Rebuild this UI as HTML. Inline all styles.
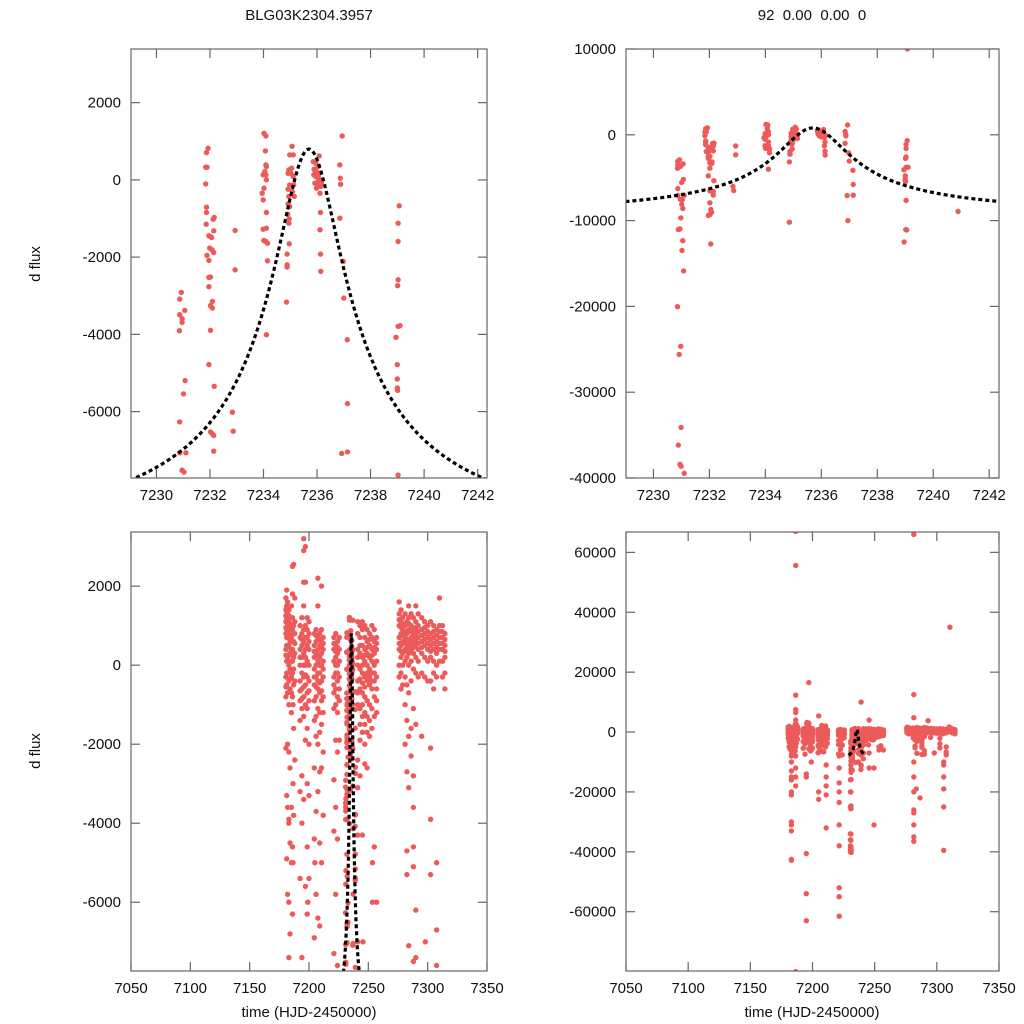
<!DOCTYPE html>
<html><head><meta charset="utf-8">
<style>
html,body{margin:0;padding:0;background:#fff;width:1024px;height:1024px;overflow:hidden;}
svg{display:block;font-family:"Liberation Sans",sans-serif;}
</style></head>
<body>
<svg id="fig" width="1024" height="1024" viewBox="0 0 1024 1024" xmlns="http://www.w3.org/2000/svg">
<rect width="1024" height="1024" fill="#fff"/>
<text x="309" y="20" font-size="15" text-anchor="middle" fill="#111">BLG03K2304.3957</text>
<text x="812" y="20" font-size="15" text-anchor="middle" fill="#111" xml:space="preserve">92  0.00  0.00  0</text>
<text transform="translate(40,264) rotate(-90)" font-size="15" text-anchor="middle" fill="#111">d flux</text>
<text transform="translate(40,751) rotate(-90)" font-size="15" text-anchor="middle" fill="#111">d flux</text>
<text x="309" y="1017" font-size="15" text-anchor="middle" fill="#111">time (HJD-2450000)</text>
<text x="812" y="1017" font-size="15" text-anchor="middle" fill="#111">time (HJD-2450000)</text>
</svg>
<script>
// ---- window data (zoom around peak) ----
const winT = [
7230.93,7230.87,7231.06,7230.87,7230.96,7230.96,7230.86,7231.07,7231.01,7230.87,7230.87,7231.10,7230.96,7231.03,
7231.93,7231.87,7231.84,7231.89,7231.84,7231.87,7231.87,7231.86,7232.12,7232.16,7231.96,7232.02,7232.06,7232.14,7231.99,7232.08,7232.14,7231.89,7231.96,7231.96,7232.02,7231.96,7232.09,7232.02,7232.09,7232.02,7231.96,7232.16,7232.02,7232.09,7232.14,7232.14,
7232.94,7232.94,7232.84,7232.87,
7234.02,7234.09,7234.07,7234.09,7234.11,7234.05,7234.09,7233.99,7234.11,7234.02,7233.95,7233.99,7234.11,7233.99,7234.11,7234.01,7234.15,7234.09,7234.15,7234.11,
7235.07,7234.98,7235.11,7234.92,7235.03,7235.11,7234.98,7235.13,7234.92,7235.08,7234.95,7235.15,7234.92,7234.98,7234.90,7234.96,7234.95,7234.96,7234.88,7234.88,7234.88,7234.86,7235.05,7234.95,
7236.08,7235.86,7235.96,7236.04,7235.89,7235.98,7236.08,7235.88,7235.96,7236.04,7236.11,7235.92,7236.02,7236.13,7235.98,7236.11,7236.13,7236.11,7236.13,7236.14,7235.93,7236.01,7236.06,7236.16,
7236.94,7236.85,7236.87,7236.88,7236.85,7236.98,7237.00,7237.13,7237.14,7236.92,7237.14,
7239.07,7239.03,7239.03,7239.03,7239.01,7239.10,7239.03,7238.95,7239.00,7239.00,7239.00,7239.01,7239.03,
7239.08,7230.86,7230.98,7230.92,7230.99,7230.89,7230.95,7230.99,7231.10,7231.08,
7231.01,7231.05,7230.98,7230.89,7230.95,7231.05,7231.02,7231.08,
7232.02,7232.05,7232.02,7231.96,7232.08,7232.05,
7234.86,7236.95,7239.02,7239.05,7238.96,7240.89
];
const winF = [
-2914,-3086,-3380,-3491,-3595,-3690,-3905,-5198,-5543,-6267,-7068,-7068,-7517,-7568,
819,707,328,328,-103,-707,-845,-1147,-1017,-974,-1448,-1465,-1491,-1319,-1767,-1810,-1879,-1957,-2086,-2526,-2517,-2767,-3146,-3258,-3319,-3896,-4784,-5344,-6525,-6577,-6620,-7025,
-1310,-2327,-6017,-6508,
1207,1138,750,388,345,216,129,129,0,-216,-345,-517,-845,-1276,-1250,-1569,-1638,-1595,-2095,-4008,
871,647,647,172,172,86,-129,-129,-241,-302,-431,-431,-621,-690,-888,-1009,-1121,-1655,-1922,-2198,-2258,-3164,302,259,
621,474,431,345,276,216,172,129,86,86,0,-86,-129,-172,-216,-345,-845,-1293,-1922,-2370,220,180,-20,-70,
1138,388,43,-112,-991,-2112,-3060,-4138,-5793,-7086,-7043,
-672,-1121,-1595,-2586,-2741,-3776,-3793,-4077,-4784,-5155,-5388,-5448,-7646,
10000,-20040,-24650,-25590,-34100,-36170,-38400,-38630,-39450,-40230,
-8125,-8590,-9690,-11050,-10970,-12340,-13480,-15860,
-7930,-8710,-9300,-9410,-9020,-12730,
-10190,-10000,-11050,-11100,-12500,-8940
];
// ---- full season data (grouped by night) ----
const nightT = [
7180.5,7181.2,7182.0,7183.1,7184.0,7185.2,7186.1,7187.0,7188.0,
7192.5,7194.0,7195.5,7197.0,7198.5,7200.0,
7204.5,7206.0,7207.5,7209.0,7210.5,7212.0,
7221.0,7222.5,7224.0,7225.5,
7241.0,7243.0,7245.0,7247.0,7249.0,7251.0,7253.0,7255.0,7257.0,
7276.0,7277.5,7279.0,7281.0,7282.5,7284.0,7286.0,7288.0,7290.0,7292.0,
7295.0,7297.5,7300.0,7302.5,7305.0,7307.5,7310.0,7312.5,7314.5,
7183.0,7186.5,7195.0,7197.0,7199.0,7205.0,7211.0,7221.5,7230.5,7245.5,7249.5,7253.5,7281.5,7283.5,7286.5,7293.0,7298.0,7305.5,7310.5
];
const nightF = [
[1700,1400,1100,800,400,-300,-800,-2100,1250,950,250,-550],
[1900,1500,1200,900,500,100,-500,-3300,-4900,1350,700,-200],
[1600,1300,1000,700,200,-200,-700,-2000,-3600,-5800,1150,450],
[1400,1100,800,500,0,-400,-1000,-2200,-3900,-7400,1250,250],
[1200,900,600,300,-100,-600,-2600,-4500,-6800,1050,-350],
[1500,1000,700,100,-300,-1200,-3600,-5000,400,-700],
[2500,1800,1200,900,400,-200,-800,-4600,-6300,600,100],
[2550,1000,600,200,-500,-1600,-3800,800,-100],
[1700,1100,800,300,-400,-2400,550],
[1000,700,400,0,-400,-900,-1400,-3200,-5400,200,-650],
[1200,800,500,200,-200,-600,-1100,-2800,-4000,-7400,650,-850],
[3200,2900,2100,1500,900,600,300,-300,-800,-1300,-3400,0,-550],
[2100,1000,700,400,0,-500,-1000,-1900,-5600,200,-250],
[1200,900,500,100,-300,-700,-1600,-3000,-4600,-6300,700,-1100],
[1100,800,400,0,-400,-900,-2000,-3300,-5400,600,-650],
[800,500,200,-100,-500,-900,-1400,-2600,-4400,-6900,350,-300],
[900,600,300,0,-300,-800,-1300,-1800,-3700,-5800,750,-550],
[2200,1500,700,400,100,-200,-600,-1100,-2000,-3200,-6400,250,-400],
[800,500,200,-200,-700,-1200,-1700,-2700,-4500,-6600,650,0,-450],
[2000,900,600,300,0,-400,-900,-1500,-2600,-5000,450,-650],
[700,400,100,-300,-800,-1200,-2200,-3800,550,-100],
[700,400,100,-300,-700,-1100,-2900,-4200,-7300,550,-500],
[800,500,200,-200,-600,-1000,-1900,-3600,-5800,350,0],
[600,300,0,-400,-800,-1200,-2200,-4400,-7600,450,-200],
[700,400,100,-300,-900,-1900,-600],
[1100,800,400,0,-400,-1000,-2400,-3100,-4300,-7000,200,-700],
[1000,700,300,-100,-600,-1100,-1500,-1900,-2800,500,-350],
[1100,900,500,200,-200,-700,-1000,-1300,-1700,-4300,0,-450],
[1000,700,400,100,-300,-800,-1200,-1500,-2000,-2500,250,-550],
[900,600,300,0,-400,-900,-1300,-1700,-2600,450,-200],
[800,500,200,-100,-500,-1000,-1400,-1800,650,-300],
[1000,700,400,100,-200,-600,-1100,-1600,250,-400],
[900,600,300,0,-400,-800,-1300,-4600,450,-200],
[700,400,100,-300,-600,-1200,-6000,550,-900],
[1600,1300,1000,700,400,0,-300,1150,550],
[1400,1100,800,500,200,-200,-600,950,350],
[1200,900,600,300,0,-500,1050,750],
[1300,1000,700,400,100,-300,-1000,-2000,850,550],
[1100,800,500,200,-500,-1400,-2700,-4700,-5300,650,350],
[1500,1200,900,600,300,0,-700,-1800,-3100,-7100,1050,450],
[1300,1000,700,400,100,-400,-1600,-2300,850,550],
[1200,900,600,300,-100,-1100,-2800,-3600,-4600,-5100,-7500,750,450],
[1500,1100,800,500,200,-200,-1500,-6200,-7400,950,650],
[1300,1000,700,400,100,-300,850,550],
[1200,900,600,300,-200,-1800,750,450],
[1100,800,500,200,-300,950,650],
[1000,700,400,100,-400,850,550],
[1100,800,500,200,-400,-2100,-3900,-5300,650,350],
[1000,700,400,100,-200,-600,850,550],
[900,600,300,0,-300,-5000,-6700,-7600,750,450],
[1700,1000,700,400,100,850,550],
[1000,700,400,100,-300,850,550],
[800,500,200,-200,-600,650,350]
,[-4000,-6000,-8000,-10000,-13000,-15000,-16000,-20000,-21000,-30000,-31000,-33000,-42500,-42800],
[67000,55600,12300,7500,6500,4000,-1000,-3000,-5000,-8000,-12000,-15000,-18000,-80000],
[-14000,-15000,-40600,-54000,-63000],
[3000,16500],
[-6000,-10000],
[5400,-5000,-20000,-22500],
[-11000,-15000,-18000,-21000,-32000],
[-8000,-12000,-17000,-20000,-23500,-31000,-38000,-52000,-55000,-61500],
[-16000,-20000,-25000,-34000,-36000,-38000,-39000,-40000],
[4000,-7000,-12000],
[-12000,-31000],
[-5000,-6000],
[66000,12500,4800,-10000,-15000,-20000,-26000,-27000,-31000,-35000,-36500],
[-19000],
[-22000],
[3800],
[-7000],
[-10000,-11000,-15000,-19000,-25000,-39500],
[35000]
];
// ---- model curve parameters ----
const modelT0 = [7235.7];
const modelBase = [-9800];
const modelAmp = [10600];
const modelWidth = [1.3];
const modelRange = [7229.0, 7242.4];
// ---- tick labels ----
const ticksXWin = [7230,7232,7234,7236,7238,7240,7242];
const ticksXAll = [7050,7100,7150,7200,7250,7300,7350];
const ticksYTL = [2000,0,-2000,-4000,-6000];
const ticksYTR = [10000,0,-10000,-20000,-30000,-40000];
const ticksYBL = [2000,0,-2000,-4000,-6000];
const ticksYBR = [60000,40000,20000,0,-20000,-40000,-60000];

const NS = 'http://www.w3.org/2000/svg';
const svg = document.getElementById('fig');
function mk(tag, attrs, parent){const e=document.createElementNS(NS,tag);for(const k in attrs)e.setAttribute(k,attrs[k]);(parent||svg).appendChild(e);return e;}

const allT = [], allF = [];
nightT.forEach((t,i)=>nightF[i].forEach(f=>{allT.push(t);allF.push(f);}));
winT.forEach((t,i)=>{allT.push(t);allF.push(winF[i]);});

const panels = [
 {id:'top-left', x0:131,x1:487,y0:49,y1:478, xd:[7229.05,7242.35], yd:[-7720,3390], xt:ticksXWin, yt:ticksYTL, T:winT, F:winF},
 {id:'top-right', x0:626,x1:999,y0:49,y1:478, xd:[7229.02,7242.35], yd:[-40000,10000], xt:ticksXWin, yt:ticksYTR, T:winT, F:winF},
 {id:'bottom-left', x0:131,x1:487,y0:532,y1:971, xd:[7050,7350], yd:[-7740,3370], xt:ticksXAll, yt:ticksYBL, T:allT, F:allF},
 {id:'bottom-right', x0:626,x1:999,y0:532,y1:971, xd:[7050,7350], yd:[-79800,66800], xt:ticksXAll, yt:ticksYBR, T:allT, F:allF}
];

panels.forEach((p,pi)=>{
  const sx = v => p.x0 + (v-p.xd[0])/(p.xd[1]-p.xd[0])*(p.x1-p.x0);
  const sy = v => p.y1 - (v-p.yd[0])/(p.yd[1]-p.yd[0])*(p.y1-p.y0);
  const g = mk('g',{});
  
  
  const cp = mk('clipPath',{id:'cp'+pi}, g);
  mk('rect',{x:p.x0,y:p.y0,width:p.x1-p.x0,height:p.y1-p.y0}, cp);
  const pts = mk('g',{'clip-path':'url(#cp'+pi+')',fill:'#ec5a5a'}, g);
  
  
  p.T.forEach((t,i)=>{
    const c = mk('circle',{cx:sx(t).toFixed(1),cy:sy(p.F[i]).toFixed(1),r:2.7}, pts);
    
    
  });
  let d='';
  const N=300;
  for(let k=0;k<=N;k++){
    const t = modelRange[0] + (modelRange[1]-modelRange[0])*k/N;
    const u = (t-modelT0[0])/modelWidth[0];
    const f = modelBase[0] + modelAmp[0]/Math.sqrt(1+u*u);
    d += (k?'L':'M')+sx(t).toFixed(2)+','+sy(f).toFixed(2);
  }
  const mc = mk('path',{d:d,fill:'none',stroke:'#000','stroke-width':3.2,'stroke-dasharray':'4,3','clip-path':'url(#cp'+pi+')'}, g);
  
  
  const fr = mk('rect',{x:p.x0,y:p.y0,width:p.x1-p.x0,height:p.y1-p.y0,fill:'none',stroke:'#666','stroke-width':1.2}, g);
  
  
  p.xt.forEach(v=>{
    const x = sx(v);
    if(x<p.x0-1||x>p.x1+1) return;
    mk('line',{x1:x,x2:x,y1:p.y1,y2:p.y1-9,stroke:'#666','stroke-width':1.2}, g);
    mk('line',{x1:x,x2:x,y1:p.y0,y2:p.y0+9,stroke:'#666','stroke-width':1.2}, g);
    const tx = mk('text',{x:x,y:p.y1+22,'font-size':15,'text-anchor':'middle',fill:'#111'}, g);
    tx.textContent = v;
    
    
  });
  p.yt.forEach(v=>{
    const y = sy(v);
    mk('line',{x1:p.x0,x2:p.x0+9,y1:y,y2:y,stroke:'#666','stroke-width':1.2}, g);
    mk('line',{x1:p.x1,x2:p.x1-9,y1:y,y2:y,stroke:'#666','stroke-width':1.2}, g);
    const ty = mk('text',{x:p.x0-10,y:y+5,'font-size':15,'text-anchor':'end',fill:'#111'}, g);
    ty.textContent = v;
    
    
  });
});
</script>
</body></html>
